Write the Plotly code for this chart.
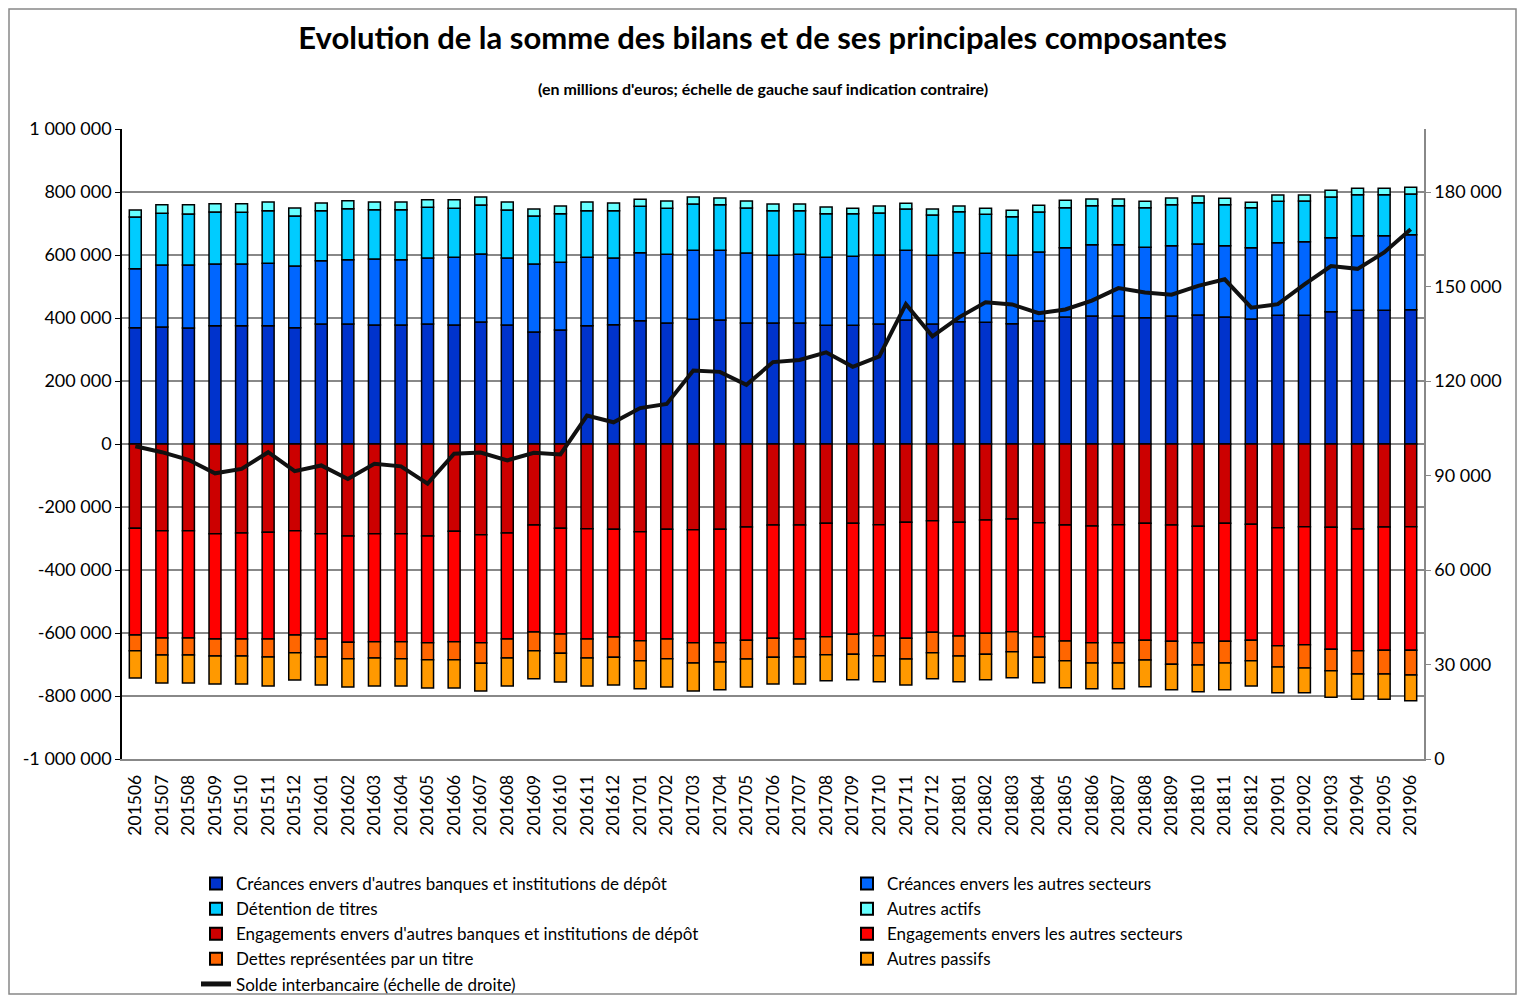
import plotly.graph_objects as go

months = ["201506","201507","201508","201509","201510","201511","201512",
          "201601","201602","201603","201604","201605","201606","201607","201608","201609","201610","201611","201612",
          "201701","201702","201703","201704","201705","201706","201707","201708","201709","201710","201711","201712",
          "201801","201802","201803","201804","201805","201806","201807","201808","201809","201810","201811","201812",
          "201901","201902","201903","201904","201905","201906"]

creances_banques = [369300,371400,368200,375600,375600,375600,369300,380900,380900,377800,377800,380900,377800,387300,377800,355500,361900,375600,378800,
                    391500,384100,395800,393600,384100,384100,384100,376700,376700,380900,393600,380900,
                    388300,386200,381500,390500,403200,406300,406300,401100,406300,409500,403200,396800,
                    408500,408500,420100,424300,424300,426400]
creances_secteurs = [187300,196800,200000,195800,195800,197900,195700,201100,204300,209500,207400,209500,214800,215800,212600,215900,214800,217000,211600,
                     215900,218000,219000,221200,222200,214800,218000,215900,219000,219100,221200,218000,
                     219100,219100,217400,219000,220100,226500,226500,223200,223300,225400,226400,226500,
                     230700,233800,234900,237100,237100,238100]
detention_titres = [164000,164000,161900,165100,164000,167200,158800,158700,161900,156600,158700,160900,155500,155600,152400,152400,154500,148100,150300,
                    147100,146000,147100,144900,142900,141800,138600,138600,135500,133300,131200,128100,
                    130100,123800,122700,127000,127000,123800,123800,126000,130100,131200,130100,127000,
                    131200,129100,129100,130100,130100,129100]
autres_actifs = [22200,27500,29600,26400,27500,27500,25300,24300,25400,24300,24300,24300,27500,25400,25400,22200,24300,27500,24300,
                 22200,23300,22200,21200,22200,21200,21200,21100,16900,22200,18000,19000,
                 18000,19000,20200,21200,23200,21200,21200,20100,21200,21200,20200,16900,
                 20100,19100,21200,20100,20100,21200]

engagements_banques = [-267700,-275100,-275100,-284700,-282500,-280400,-275100,-284700,-292100,-284700,-284700,-292100,-277200,-287800,-282500,-257100,-267700,-268800,-270900,
                       -278300,-270900,-272000,-270900,-263500,-257100,-257100,-251900,-251900,-256100,-248700,-243400,
                       -248700,-241300,-238100,-249700,-257100,-260300,-256100,-251900,-257100,-261400,-251900,-255000,
                       -265600,-262400,-264600,-269800,-263500,-262400]
engagements_secteurs = [-338600,-340800,-340800,-334300,-336500,-338600,-331200,-334300,-337500,-342800,-342800,-338600,-350300,-342900,-336500,-339700,-335500,-350200,-341800,
                        -346000,-348100,-358700,-359800,-359800,-359800,-361900,-359700,-352300,-352400,-368200,-354500,
                        -360800,-359700,-357700,-361900,-368300,-370400,-374600,-371400,-369400,-369300,-374600,-368300,
                        -374600,-374600,-387200,-386300,-391500,-392600]
dettes_titre = [-49800,-53900,-53900,-54000,-54000,-57200,-56100,-57200,-51900,-51900,-54000,-53900,-57100,-65600,-60400,-59300,-61300,-60400,-64500,
                -63500,-62500,-64500,-61300,-59200,-60300,-57200,-57200,-63500,-63500,-65600,-64500,
                -63500,-66700,-63500,-65600,-62400,-64500,-64500,-62400,-73000,-70900,-68700,-64500,
                -67700,-74100,-67700,-74100,-75200,-78300]
autres_passifs = [-86700,-88900,-88900,-88900,-88900,-92000,-86800,-88900,-89900,-88800,-86700,-90000,-90000,-87800,-88800,-88900,-91000,-88800,-87900,
                  -88900,-89900,-88900,-87900,-88900,-84700,-85700,-82500,-80400,-82500,-82600,-82600,
                  -81500,-80400,-82500,-80500,-85700,-81500,-81500,-84700,-80400,-84600,-84700,-80400,
                  -81500,-78300,-84700,-80400,-80400,-81500]

solde_interbancaire = [99300,97400,95000,90700,92100,97400,91400,93200,88900,93700,92900,87400,96900,97300,94800,97200,96700,109000,106900,
                       111400,112700,123300,122900,118800,126000,126700,129100,124500,127800,144400,134200,
                       140200,145000,144300,141500,142700,145500,149500,148100,147400,150200,152300,143300,
                       144400,150700,156500,155600,160800,168200]

left_ticks = [1000000, 800000, 600000, 400000, 200000, 0, -200000, -400000, -600000, -800000, -1000000]
left_labels = ["1 000 000", "800 000", "600 000", "400 000", "200 000", "0", "-200 000", "-400 000", "-600 000", "-800 000", "-1 000 000"]
right_ticks = [0, 30000, 60000, 90000, 120000, 150000, 180000]
right_labels = ["0", "30 000", "60 000", "90 000", "120 000", "150 000", "180 000"]

bar_series = [
    ("Créances envers d'autres banques et institutions de dépôt", creances_banques, "#0033CC"),
    ("Créances envers les autres secteurs", creances_secteurs, "#0066FF"),
    ("Détention de titres", detention_titres, "#00CCFF"),
    ("Autres actifs", autres_actifs, "#66FFFF"),
    ("Engagements envers d'autres banques et institutions de dépôt", engagements_banques, "#CC0000"),
    ("Engagements envers les autres secteurs", engagements_secteurs, "#FF0000"),
    ("Dettes représentées par un titre", dettes_titre, "#FF6600"),
    ("Autres passifs", autres_passifs, "#FF9900"),
]

FONT = "Lato"
fig = go.Figure()
for name, vals, col in bar_series:
    fig.add_trace(go.Bar(x=months, y=vals, name=name,
                         marker=dict(color=col, line=dict(color="black", width=1.5))))

fig.add_trace(go.Scatter(x=months, y=solde_interbancaire, name="Solde interbancaire (échelle de droite)",
                         mode="lines", line=dict(color="#111111", width=4), yaxis="y2"))

# page body has an 8px margin: compensate so the plot lands where the reference has it
OFF = 8
W, H = 1525 - 2 * OFF, 1003 - 2 * OFF
L, R, T, B = 122 - OFF, 101 - OFF, 129 - OFF, 244 - OFF
pw, ph = W - L - R, H - T - B

def py(y_abs):
    return (H - B - (y_abs - OFF)) / ph

def px(x_abs):
    return ((x_abs - OFF) - L) / pw

fig.update_layout(
    width=W, height=H,
    margin=dict(l=L, r=R, t=T, b=B, autoexpand=False),
    paper_bgcolor="white", plot_bgcolor="white",
    font=dict(family=FONT, color="black"),
    barmode="relative", bargap=0.55,
    title=dict(text="<b>Evolution de la somme des bilans et de ses principales composantes</b>",
               x=0.5, xanchor="center", y=1 - (38 - OFF) / H, yanchor="middle", yref="container",
               font=dict(family=FONT, size=31, color="black")),
    xaxis=dict(type="category", tickangle=-90, tickfont=dict(size=17.5), showgrid=False,
               showline=True, linecolor="#888888", linewidth=1.5, ticks="", ticklabelstandoff=7,
               automargin=False),
    yaxis=dict(range=[-1000000, 1000000], tickvals=left_ticks, ticktext=left_labels,
               tickfont=dict(size=18), showgrid=True, gridcolor="#888888", gridwidth=1.5,
               zeroline=True, zerolinecolor="#888888", zerolinewidth=1.5,
               showline=True, linecolor="black", linewidth=1.5, ticks="outside", ticklen=5,
               tickcolor="black", automargin=False),
    yaxis2=dict(range=[0, 200000], tickvals=right_ticks, ticktext=right_labels, overlaying="y",
                side="right", showgrid=False, zeroline=False, tickfont=dict(size=18),
                showline=True, linecolor="#888888", linewidth=1.5, ticks="outside", ticklen=5,
                tickcolor="#888888", automargin=False),
    legend=dict(orientation="h", x=px(196), xanchor="left", y=py(866), yanchor="top",
                traceorder="normal", entrywidth=606, entrywidthmode="pixels",
                font=dict(size=17, family=FONT), itemsizing="constant", bgcolor="rgba(0,0,0,0)",
                tracegroupgap=0),
    showlegend=True,
    annotations=[dict(text="<b>(en millions d'euros; échelle de gauche sauf indication contraire)</b>",
                      xref="paper", yref="paper", x=px(763), y=py(88),
                      xanchor="center", yanchor="middle", showarrow=False,
                      font=dict(size=16, family=FONT, color="black"))],
    shapes=[dict(type="rect", xref="paper", yref="paper",
                 x0=-(L - 1) / pw, x1=1 + (R - 1) / pw, y0=-(B - 1) / ph, y1=1 + (T - 1) / ph,
                 line=dict(color="#888888", width=1.5), layer="below")],
)

fig.write_html("out.html")
